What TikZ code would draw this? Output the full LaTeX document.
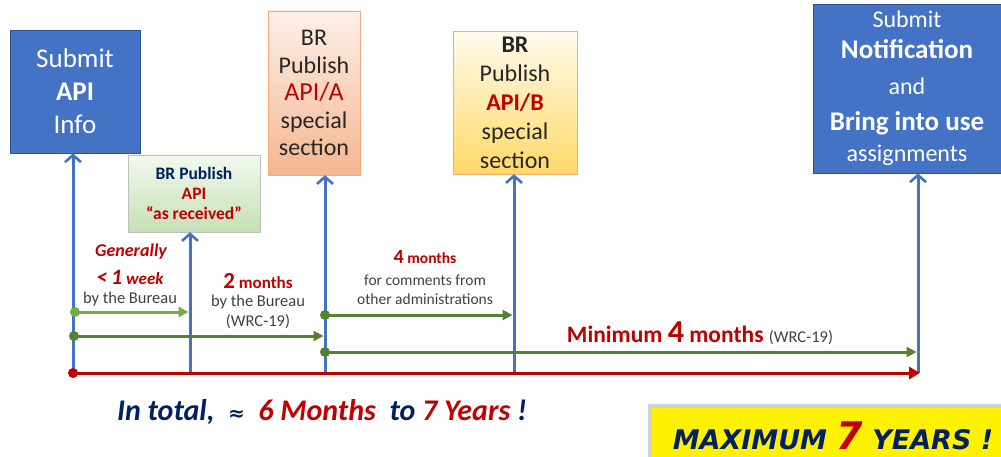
\documentclass[tikz,border=0pt]{standalone}
\usepackage{fontspec}
\setmainfont{Carlito}
\newfontfamily\verdfont{DejaVu Sans}
\usetikzlibrary{arrows.meta,shadows}
\definecolor{apiblue}{HTML}{4472C4}
\definecolor{apiframe}{HTML}{2F528F}
\definecolor{apired}{HTML}{C00000}
\definecolor{lgreen}{HTML}{70AD47}
\definecolor{dgreen}{HTML}{548235}
\definecolor{navy}{HTML}{002060}
\definecolor{greytxt}{HTML}{404040}
\definecolor{boxtxt}{HTML}{262626}
\definecolor{grtop}{HTML}{F3F9EF}
\definecolor{grbot}{HTML}{C5E0B4}
\definecolor{ortop}{HTML}{FDF0E8}
\definecolor{orbot}{HTML}{F5B690}
\definecolor{orframe}{HTML}{F4A97A}
\definecolor{yetop}{HTML}{FFFBEE}
\definecolor{yebot}{HTML}{FFD966}
\newcommand\fsz[2]{\fontsize{#1}{#2}\selectfont}
\begin{document}
\begin{tikzpicture}[x=1pt,y=-1pt,
  every node/.style={inner sep=0pt,align=center},
  bluebox/.style={draw=apiframe,fill=apiblue,line width=0.8pt,text=white},
  up/.style={draw=apiblue,line width=3pt,-{Straight Barb[length=7pt,width=16pt,line width=2.6pt]}},
  span/.style={line width=3pt,-{Triangle[length=10pt,width=10pt]},shorten >=1.5pt},
  lbl/.style={text=greytxt,font=\fsz{16.5}{19}}]
\useasboundingbox (0,0) rectangle (1001,457);

\node[bluebox,minimum width=130pt,minimum height=123pt,font=\fsz{27}{33}] (sub) at (75,91.5) {Submit\\\textbf{API}\\Info};
\node[draw=black!25,top color=grtop,bottom color=grbot,minimum width=132pt,minimum height=77pt,font=\fsz{17.5}{20}\bfseries,text=apired] (asr) at (194,193.5) {{\color{navy}BR Publish}\\API\\“as received”};
\node[draw=orframe,top color=ortop,bottom color=orbot,minimum width=92pt,minimum height=164pt,font=\fsz{24}{27.5},text=boxtxt] (pa) at (314,93) {BR\\Publish\\{\color{apired}\fsz{26}{27.5}API/A}\\special\\section};
\node[draw=orframe,top color=yetop,bottom color=yebot,minimum width=124pt,minimum height=143pt,font=\fsz{24}{29},text=boxtxt] (pb) at (515,102.5) {\textbf{BR}\\Publish\\{\color{apired}\bfseries API/B}\\special\\section};
\node[bluebox,minimum width=188pt,minimum height=169pt,font=\fsz{24}{31}] (ntf) at (907,88.5) {Submit\\{\fsz{27}{31}\bfseries Notification}\\[5pt]and\\[5pt]{\fsz{27}{31}\bfseries Bring into use}\\assignments};

\node[text=apired,font=\fsz{18}{20}\bfseries\itshape] (gen1) at (131,252) {Generally};
\node[text=apired,font=\fsz{17}{20}\bfseries\itshape] (gen2) at (130,277) {{\fsz{22}{24}<\,1} week};
\node[lbl] (gen3) at (130,299) {by the Bureau};
\node[text=apired,font=\fsz{17}{20}\bfseries] (two1) at (258,281) {{\fsz{23}{24}2} months};
\node[lbl] (two2) at (258,302) {by the Bureau};
\node[lbl] (two3) at (258,322) {(WRC-19)};
\node[text=apired,font=\fsz{15.5}{18}\bfseries] (four1) at (425,257) {{\fsz{20}{22}4} months};
\node[lbl,font=\fsz{15.5}{19}] (four2) at (425,289.5) {for comments from\\other administrations};
\node[text=apired,font=\fsz{23.5}{26}\bfseries] (mini) at (700,333) {Minimum {\fsz{32}{32}4} months {\mdseries\color{greytxt}\fsz{16.5}{18}(WRC-19)}};

\node[font=\fsz{30}{32}\bfseries\itshape,text=navy] (total) at (322,412) {In total, \ {\verdfont\fsz{20}{20}≈} \ {\color{apired}6 Months} \ to {\color{apired}7 Years} !};
\node[fill=yellow,minimum width=358pt,minimum height=54pt,drop shadow={shadow xshift=-4pt,shadow yshift=4pt,fill=black!35}] (maxbox) at (831,435) {};
\node[font=\verdfont\fsz{27}{28}\bfseries\itshape,text=navy] (maxi) at (833,436) {MAXIMUM {\color{apired}\fsz{38}{38}7} YEARS !};

\coordinate (t0) at (73,373);
\coordinate (t1) at (190,373);
\coordinate (t2) at (325,373);
\coordinate (t3) at (514,373);
\coordinate (t4) at (918,373);
\draw[up] (t0) -- (t0 |- sub.south);
\draw[up] (t1) -- (t1 |- asr.south);
\draw[up] (t2) -- (t2 |- pa.south);
\draw[up] (t3) -- (t3 |- pb.south);
\draw[up] (t4) -- (t4 |- ntf.south);

\coordinate (g1) at (75,312);
\coordinate (g2) at (74,336);
\coordinate (g3) at (325,315);
\coordinate (g4) at (325,352);
\draw[span,lgreen] (g1) -- (g1 -| t1);
\draw[span,dgreen] (g2) -- (g2 -| t2);
\draw[span,dgreen] (g3) -- (g3 -| t3);
\draw[span,dgreen] (g4) -- (g4 -| t4);
\draw[line width=3pt,apired,-{Triangle[length=11pt,width=12pt]}] (t0) -- ([xshift=2pt]t4);
\foreach \p/\c in {g1/lgreen,g2/dgreen,g3/dgreen,g4/dgreen,t0/apired}
  \fill[\c] (\p) circle (5pt);
\end{tikzpicture}
\end{document}
